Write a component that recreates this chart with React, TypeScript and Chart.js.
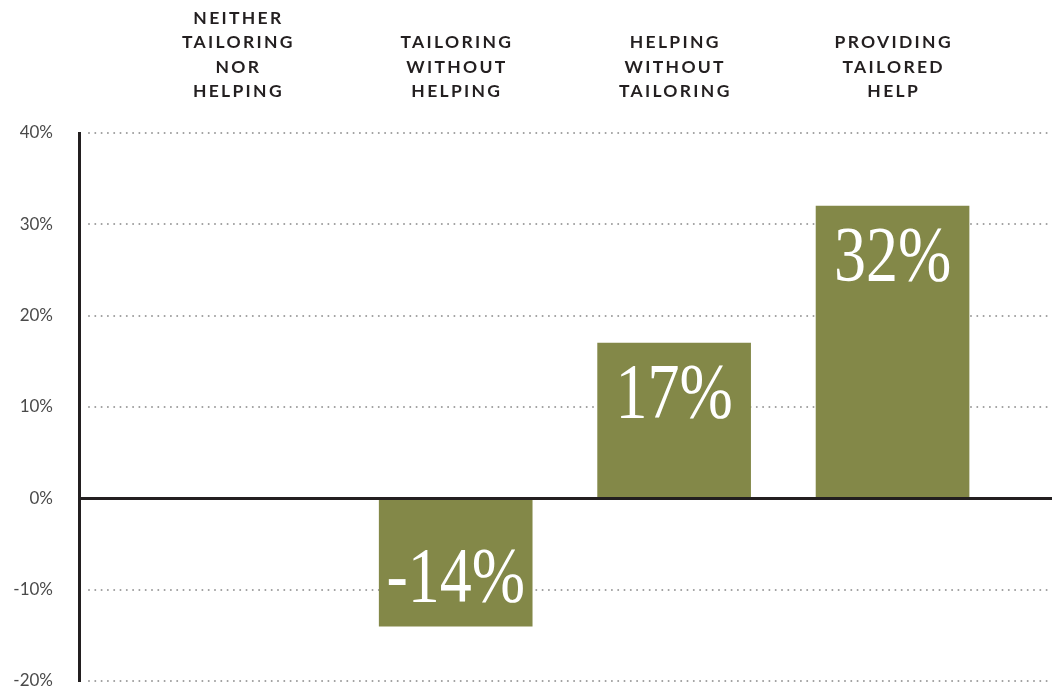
import React, { useEffect, useRef } from "react";
import { Chart, registerables } from "chart.js";

Chart.register(...registerables);

const categories: string[][] = [
  ["NEITHER", "TAILORING", "NOR", "HELPING"],
  ["TAILORING", "WITHOUT", "HELPING"],
  ["HELPING", "WITHOUT", "TAILORING"],
  ["PROVIDING", "TAILORED", "HELP"],
];
const values: number[] = [0, -14, 17, 32];
const yTickValues: number[] = [-20, -10, 0, 10, 20, 30, 40];

const BAR_COLOR = "#838848";
const INK = "#231f20";

const customPlugin = {
  id: "customDraw",
  beforeDatasetsDraw(chart: any) {
    const { ctx, chartArea, scales } = chart;
    const y = scales.y;
    ctx.save();
    ctx.strokeStyle = "#9c9c9c";
    ctx.lineWidth = 2;
    ctx.lineCap = "round";
    ctx.setLineDash([0, 6.3]);
    yTickValues.forEach((v) => {
      if (v === 0) return;
      const py = Math.round(y.getPixelForValue(v));
      ctx.beginPath();
      ctx.moveTo(chartArea.left + 9, py);
      ctx.lineTo(chartArea.right, py);
      ctx.stroke();
    });
    ctx.restore();
  },
  afterDatasetsDraw(chart: any) {
    const { ctx, chartArea, scales } = chart;
    const y = scales.y;
    ctx.save();
    const y0 = Math.round(y.getPixelForValue(0)) + 0.5;
    ctx.strokeStyle = INK;
    ctx.lineWidth = 3;
    ctx.beginPath();
    ctx.moveTo(chartArea.left, y0);
    ctx.lineTo(chartArea.right, y0);
    ctx.stroke();
    ctx.beginPath();
    ctx.moveTo(chartArea.left - 0.5, chartArea.top - 1);
    ctx.lineTo(chartArea.left - 0.5, chartArea.bottom + 1);
    ctx.stroke();

    const meta = chart.getDatasetMeta(0);
    ctx.fillStyle = "#ffffff";
    ctx.font = '400 78px "Liberation Serif", serif';
    ctx.textAlign = "center";
    ctx.textBaseline = "alphabetic";
    meta.data.forEach((el: any, i: number) => {
      const v = values[i];
      if (v === 0) return;
      const center = el.y + (v > 0 ? 48 : -51);
      const baseline = center + 26;
      ctx.save();
      ctx.translate(el.x, baseline);
      ctx.scale(0.82, 1);
      ctx.fillText(`${v}%`, 0, 0);
      ctx.restore();
    });
    ctx.restore();
  },
  afterDraw(chart: any) {
    const { ctx, scales } = chart;
    const x = scales.x;
    ctx.save();
    ctx.fillStyle = INK;
    ctx.font = '700 17.5px Lato, sans-serif';
    (ctx as any).letterSpacing = "2.3px";
    ctx.textAlign = "center";
    ctx.textBaseline = "alphabetic";
    const lastBaseline = 97;
    const lineH = 24.4;
    categories.forEach((lines, i) => {
      const px = x.getPixelForValue(i) + 1.15;
      const n = lines.length;
      lines.forEach((line, j) => {
        const by = lastBaseline - (n - 1 - j) * lineH;
        ctx.fillText(line, px, by);
      });
    });
    ctx.restore();
  },
};

export default function App() {
  const canvasRef = useRef<HTMLCanvasElement | null>(null);

  useEffect(() => {
    document.body.style.margin = "0";
    const canvas = canvasRef.current;
    if (!canvas) return;
    const chart = new Chart(canvas, {
      type: "bar",
      data: {
        datasets: [
          {
            data: values.map((v, i) => ({ x: i, y: v })),
            backgroundColor: BAR_COLOR,
            borderWidth: 0,
            barThickness: 153,
          },
        ],
      },
      options: {
        animation: false,
        responsive: false,
        maintainAspectRatio: false,
        layout: { padding: { top: 133, bottom: 7, left: 0, right: 0 } },
        plugins: {
          legend: { display: false },
          tooltip: { enabled: false },
        },
        scales: {
          x: {
            type: "linear",
            min: -0.72,
            max: 3.73,
            offset: false,
            display: false,
          },
          y: {
            min: -20,
            max: 40,
            afterFit: (scale: any) => {
              scale.width = 80;
              scale.paddingTop = 0;
              scale.paddingBottom = 0;
            },
            afterBuildTicks: (scale: any) => {
              scale.ticks = yTickValues.map((v) => ({ value: v }));
            },
            grid: { display: false, drawTicks: false },
            border: { display: false },
            ticks: {
              padding: 27,
              color: "#4a4a4a",
              font: { family: "Lato, sans-serif", size: 17 },
              callback: (v: any) => `${v}%`,
            },
          },
        },
      },
      plugins: [customPlugin],
    });
    return () => chart.destroy();
  }, []);

  return (
    <div style={{ width: 1052, height: 688, background: "#ffffff" }}>
      <canvas ref={canvasRef} width={1052} height={688} />
    </div>
  );
}
